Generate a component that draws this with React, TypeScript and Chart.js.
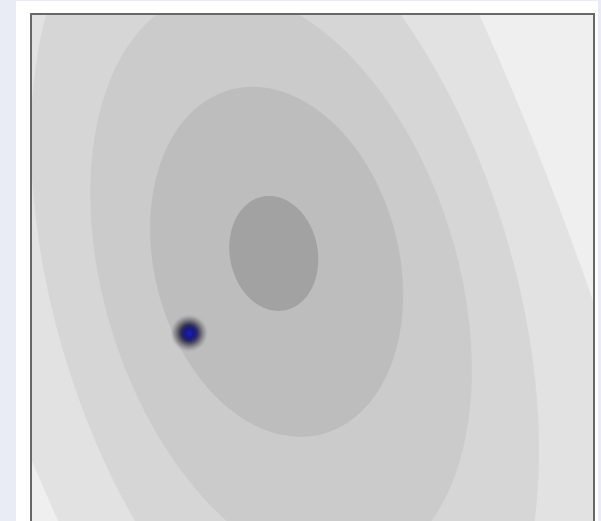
import React, { useEffect, useRef } from "react";
import Chart from "chart.js/auto";

// Density contours, outermost first (axis units 0..10 on both axes)
const contourFill = ["#e2e2e2", "#d6d6d6", "#cbcbcb", "#bdbdbd", "#a2a2a2"];
const outsideFill = "#efefef";
const centerX = [4.24, 4.51, 4.44, 4.36, 4.31];
const centerY = [5.45, 5.01, 5.25, 5.6, 5.75];
const spreadX = [8.14, 4.528, 3.4, 2.255, 0.793];
const spreadY = [16.68, 7.56, 5.17, 3.119, 1.025];
const slope = [-0.356, -0.22, -0.2, -0.137, -0.08];

// Observed sample
const pointX = [2.8];
const pointY = [4.33];

const xMin = 0, xMax = 10, yMin = 0, yMax = 10;

function makeDot(): HTMLCanvasElement {
  const c = document.createElement("canvas");
  const r = 19;
  c.width = r * 2;
  c.height = r * 2;
  const g = c.getContext("2d")!;
  const grad = g.createRadialGradient(r, r, 0, r, r, r);
  grad.addColorStop(0, "#1e20b4");
  grad.addColorStop(0.25, "#17188c");
  grad.addColorStop(0.42, "#2c2c5c");
  grad.addColorStop(0.6, "rgba(84,84,96,0.88)");
  grad.addColorStop(0.82, "rgba(128,128,134,0.5)");
  grad.addColorStop(1, "rgba(170,170,170,0)");
  g.fillStyle = grad;
  g.beginPath();
  g.arc(r, r, r, 0, Math.PI * 2);
  g.fill();
  return c;
}

const contourPlugin = {
  id: "contours",
  beforeDatasetsDraw(chart: any) {
    const { ctx, chartArea: a, scales } = chart;
    const sx = scales.x;
    const sy = scales.y;
    ctx.save();
    ctx.beginPath();
    ctx.rect(a.left, a.top, a.right - a.left, a.bottom - a.top);
    ctx.clip();
    ctx.fillStyle = outsideFill;
    ctx.fillRect(a.left, a.top, a.right - a.left, a.bottom - a.top);
    for (let i = 0; i < contourFill.length; i++) {
      const H = spreadY[i];
      const kH = slope[i] * H;
      const rest = Math.sqrt(Math.max(spreadX[i] * spreadX[i] - kH * kH, 0));
      ctx.beginPath();
      const steps = 240;
      for (let s = 0; s <= steps; s++) {
        const t = (s / steps) * Math.PI * 2;
        const vx = centerX[i] + kH * Math.cos(t) + rest * Math.sin(t);
        const vy = centerY[i] + H * Math.cos(t);
        const px = sx.getPixelForValue(vx);
        const py = sy.getPixelForValue(vy);
        if (s === 0) ctx.moveTo(px, py);
        else ctx.lineTo(px, py);
      }
      ctx.closePath();
      ctx.fillStyle = contourFill[i];
      ctx.fill();
    }
    ctx.restore();
  },
  afterDatasetsDraw(chart: any) {
    const { ctx, chartArea: a } = chart;
    ctx.save();
    ctx.strokeStyle = "#686868";
    ctx.lineWidth = 2;
    ctx.strokeRect(a.left - 1, a.top - 1, a.right - a.left + 2, a.bottom - a.top + 2);
    ctx.restore();
  },
};

export default function App() {
  const ref = useRef<HTMLCanvasElement>(null);

  useEffect(() => {
    if (!ref.current) return;
    const dot = makeDot();
    const chart = new Chart(ref.current, {
      type: "scatter",
      data: {
        datasets: [
          {
            data: pointX.map((v, i) => ({ x: v, y: pointY[i] })),
            pointStyle: dot as any,
            pointRadius: 19,
            pointHoverRadius: 19,
            clip: false,
          },
        ],
      },
      options: {
        animation: false,
        responsive: false,
        devicePixelRatio: 1,
        layout: { autoPadding: false, padding: { left: 16, top: 14, right: 5, bottom: 25 } },
        plugins: { legend: { display: false }, tooltip: { enabled: false } },
        scales: {
          x: { type: "linear", min: xMin, max: xMax, display: false },
          y: { type: "linear", min: yMin, max: yMax, display: false },
        },
      },
      plugins: [contourPlugin],
    });
    return () => chart.destroy();
  }, []);

  return (
    <div style={{ position: "fixed", inset: 0, background: "#e9ecf5", overflow: "hidden" }}>
      <div style={{ position: "absolute", left: 16, top: 1, width: 582, height: 640, background: "#ffffff" }}>
        <canvas ref={ref} width={582} height={600} style={{ display: "block" }} />
      </div>
    </div>
  );
}
